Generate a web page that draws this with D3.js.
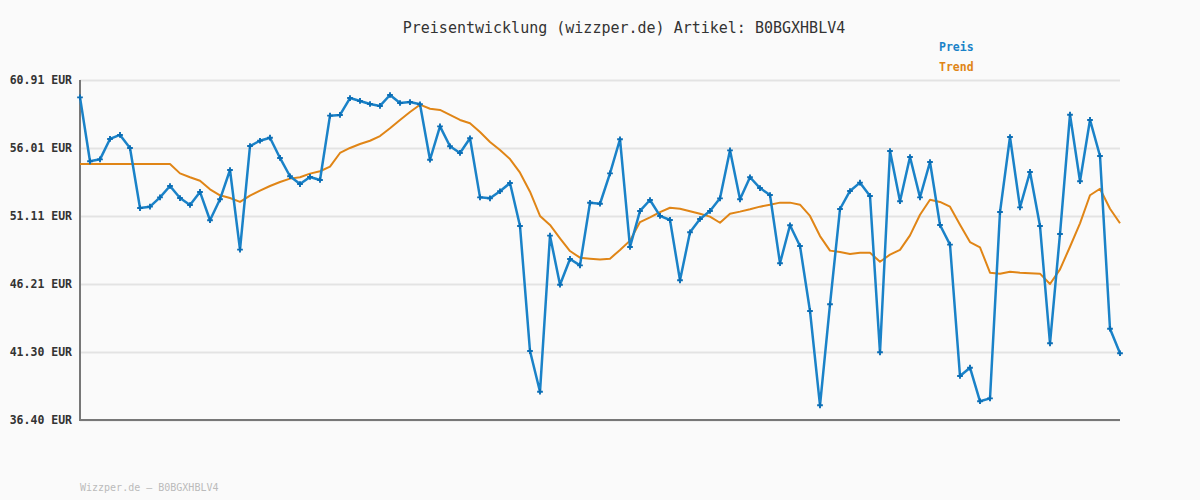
<!DOCTYPE html>
<html><head><meta charset="utf-8">
<script src="https://cdn.jsdelivr.net/npm/d3@7"></script>
<style>
html,body{margin:0;padding:0;background:#fafafa;}
svg{display:block;}
</style></head>
<body>
<svg id="chart" width="1200" height="500"></svg>
<script>
const titleText = "Preisentwicklung (wizzper.de) Artikel: B0BGXHBLV4";
const footerText = "Wizzper.de – B0BGXHBLV4";
const seriesNames = ["Preis", "Trend"];
const yTicks = [36.40, 41.30, 46.21, 51.11, 56.01, 60.91];
const preis = [59.66,55.05,55.19,56.66,56.95,56.01,51.68,51.78,52.45,53.27,
52.40,51.90,52.84,50.80,52.31,54.42,48.68,56.15,56.53,56.75,
55.29,53.97,53.41,53.92,53.70,58.34,58.39,59.61,59.40,59.18,
59.04,59.83,59.25,59.32,59.16,55.16,57.57,56.13,55.65,56.71,
52.45,52.38,52.89,53.48,50.38,41.37,38.44,49.69,46.15,48.01,
47.55,52.06,51.99,54.18,56.64,48.87,51.47,52.26,51.11,50.82,
46.47,49.93,50.89,51.47,52.38,55.84,52.31,53.90,53.12,52.62,
47.70,50.44,48.94,44.26,37.46,44.74,51.61,52.91,53.51,52.55,
41.28,55.79,52.17,55.36,52.45,55.00,50.46,49.04,39.57,40.17,
37.75,37.96,51.39,56.80,51.73,54.28,50.38,41.93,49.81,58.41,
53.61,58.03,55.43,42.98,41.21];
const trend = [54.85,54.85,54.85,54.85,54.85,54.85,54.85,54.85,54.85,54.85,
54.18,53.90,53.65,53.03,52.60,52.40,52.12,52.57,52.93,53.27,
53.56,53.80,53.90,54.16,54.33,54.66,55.65,56.01,56.30,56.53,
56.87,57.43,58.03,58.60,59.13,58.84,58.75,58.39,58.03,57.79,
57.16,56.44,55.86,55.21,54.23,52.86,51.11,50.46,49.50,48.58,
48.10,48.03,47.97,48.03,48.66,49.33,50.67,51.01,51.39,51.70,
51.63,51.45,51.27,51.06,50.62,51.27,51.42,51.59,51.78,51.92,
52.07,52.07,51.92,51.11,49.66,48.61,48.51,48.37,48.46,48.46,
47.81,48.32,48.66,49.71,51.20,52.28,52.12,51.78,50.48,49.23,
48.85,47.02,46.95,47.09,47.02,46.98,46.95,46.20,47.26,48.89,
50.58,52.60,53.07,51.63,50.58];

(function(){
const svg = d3.select("#chart");
const pL = 80, pR = 1120, pT = 80, pB = 420;
const mono = "'DejaVu Sans Mono', 'Liberation Mono', monospace";
const blue = "#1a82c8", blueDark = "#0b6eb5", orange = "#e08516";

svg.append("rect").attr("width",1200).attr("height",500).attr("fill","#fafafa");

const x = d3.scaleLinear().domain([0, preis.length-1]).range([pL, pR]);
const y = d3.scaleLinear().domain([yTicks[0], yTicks[yTicks.length-1]]).range([pB, pT]);

const yAxis = d3.axisLeft(y).tickValues(yTicks).tickSize(-(pR-pL)).tickFormat(d => d.toFixed(2) + " EUR").tickPadding(8);
const gy = svg.append("g").attr("transform", `translate(${pL},0)`).call(yAxis);
gy.select(".domain").remove();
gy.selectAll(".tick line").attr("stroke","#e3e3e3").attr("stroke-width",2);
gy.selectAll(".tick text").attr("font-family",mono).attr("font-size","11.5px").attr("font-weight","bold").attr("fill","#333");

svg.append("line").attr("x1",pL).attr("x2",pL).attr("y1",pT).attr("y2",pB+1).attr("stroke","#777").attr("stroke-width",2);
svg.append("line").attr("x1",pL-1).attr("x2",pR).attr("y1",pB).attr("y2",pB).attr("stroke","#777").attr("stroke-width",2);

const line = d3.line().x((d,i)=>x(i)).y(d=>y(d));
svg.append("path").datum(trend).attr("d",line).attr("fill","none").attr("stroke",orange).attr("stroke-width",2).attr("stroke-linejoin","round");
svg.append("path").datum(preis).attr("d",line).attr("fill","none").attr("stroke",blue).attr("stroke-width",2.5).attr("stroke-linejoin","round");

const sym = d3.symbol().type(d3.symbolCross).size(18);
svg.append("g").selectAll("path").data(preis).join("path")
  .attr("transform",(d,i)=>`translate(${x(i)},${y(d)})`)
  .attr("d",sym).attr("fill",blueDark);

svg.append("text").attr("x",624).attr("y",33).attr("text-anchor","middle")
  .attr("font-family",mono).attr("font-size","15px").attr("fill","#333").text(titleText);

const legendColors = [blue, orange];
svg.append("g").selectAll("text").data(seriesNames).join("text")
  .attr("x",939).attr("y",(d,i)=>51+i*20)
  .attr("font-family",mono).attr("font-size","11.5px").attr("font-weight","bold")
  .attr("fill",(d,i)=>legendColors[i]).text(d=>d);

svg.append("text").attr("x",80).attr("y",491).attr("font-family",mono).attr("font-size","10px")
  .attr("fill","#bbb").text(footerText);
})();
</script>
</body></html>
